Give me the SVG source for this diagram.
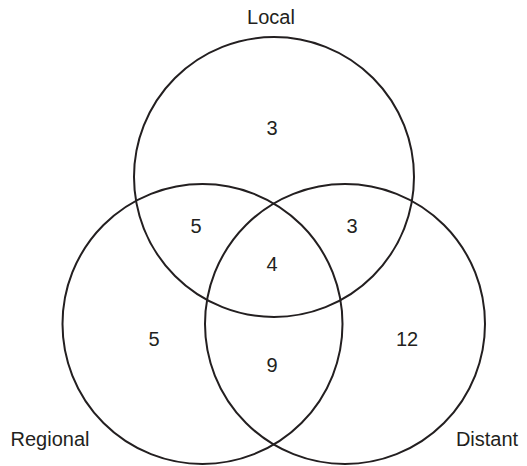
<svg xmlns="http://www.w3.org/2000/svg" width="527" height="466" viewBox="0 0 527 466">
<style>
.c{fill:none;stroke:#231f20;stroke-width:2}
.t{font-family:"Liberation Sans",Arial,sans-serif;font-size:20px;fill:#231f20;text-anchor:middle}
</style>
<rect width="527" height="466" fill="#fff"/>
<g id="local"><circle class="c" cx="274" cy="177" r="140"/><text class="t" x="271" y="24">Local</text></g>
<g id="regional"><circle class="c" cx="202.5" cy="324" r="140"/><text class="t" x="50" y="446">Regional</text></g>
<g id="distant"><circle class="c" cx="345" cy="324" r="140"/><text class="t" x="487" y="446">Distant</text></g>
<g id="counts">
<text class="t" x="272" y="135">3</text>
<text class="t" x="196" y="233">5</text>
<text class="t" x="352" y="233">3</text>
<text class="t" x="272" y="271">4</text>
<text class="t" x="154" y="346">5</text>
<text class="t" x="407" y="346">12</text>
<text class="t" x="272" y="372">9</text>
</g>
<g id="connectors"/>
</svg>
